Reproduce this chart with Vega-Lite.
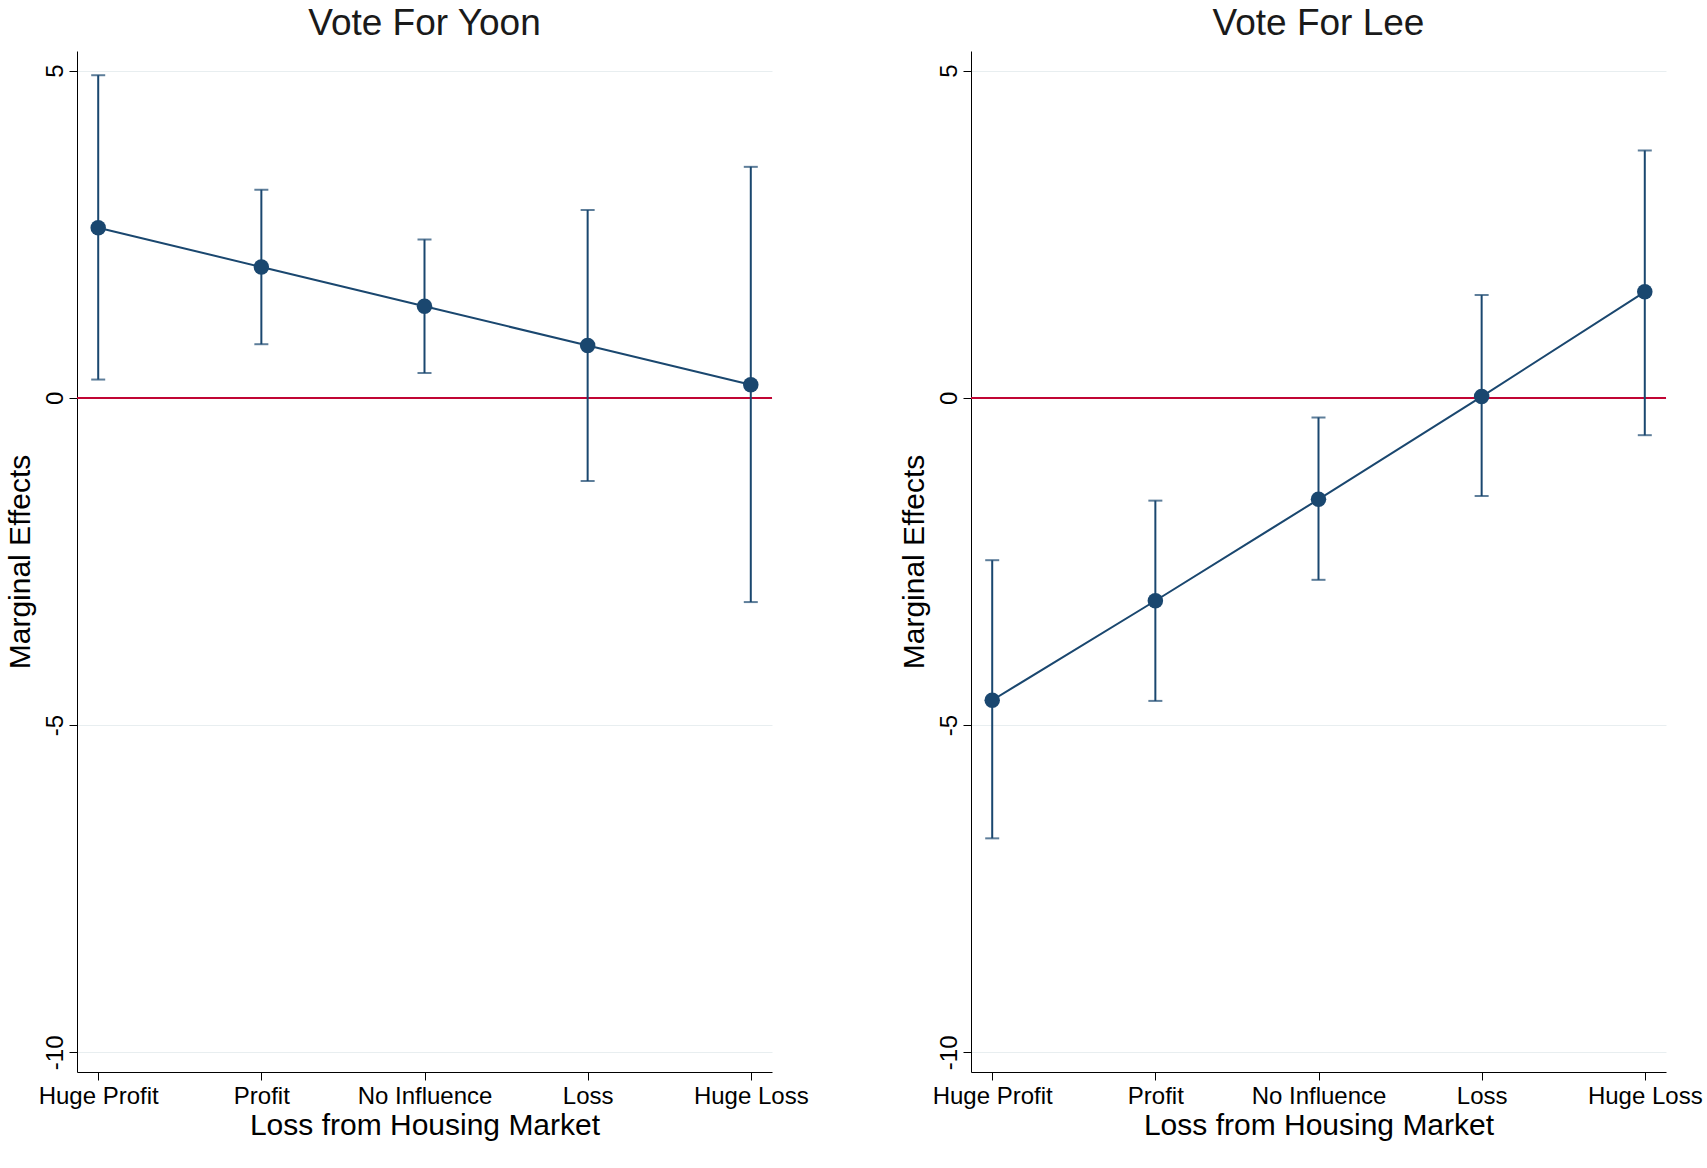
{
  "$schema": "https://vega.github.io/schema/vega-lite/v6.json",
  "background": "white",
  "padding": {"left": 5, "top": 5, "right": 5, "bottom": 5},
  "config": {
    "font": "Liberation Sans",
    "view": {"stroke": null},
    "title": {"fontSize": 37, "fontWeight": "normal", "color": "#1a1a1a", "offset": 8},
    "axis": {
      "labelFontSize": 24, "titleFontSize": 30, "titleFontWeight": "normal",
      "labelColor": "black", "titleColor": "black", "domainColor": "black", "tickColor": "black",
      "tickSize": 8
    }
  },
  "datasets": {
    "effects": [
      {"panel": "Yoon", "cat": "Huge Profit", "ord": 1, "me": 2.6, "lo": 0.28, "hi": 4.93},
      {"panel": "Yoon", "cat": "Profit", "ord": 2, "me": 2.0, "lo": 0.82, "hi": 3.18},
      {"panel": "Yoon", "cat": "No Influence", "ord": 3, "me": 1.4, "lo": 0.38, "hi": 2.42},
      {"panel": "Yoon", "cat": "Loss", "ord": 4, "me": 0.8, "lo": -1.27, "hi": 2.87},
      {"panel": "Yoon", "cat": "Huge Loss", "ord": 5, "me": 0.2, "lo": -3.12, "hi": 3.53},
      {"panel": "Lee", "cat": "Huge Profit", "ord": 1, "me": -4.62, "lo": -6.73, "hi": -2.48},
      {"panel": "Lee", "cat": "Profit", "ord": 2, "me": -3.1, "lo": -4.63, "hi": -1.57},
      {"panel": "Lee", "cat": "No Influence", "ord": 3, "me": -1.55, "lo": -2.78, "hi": -0.3},
      {"panel": "Lee", "cat": "Loss", "ord": 4, "me": 0.02, "lo": -1.5, "hi": 1.57},
      {"panel": "Lee", "cat": "Huge Loss", "ord": 5, "me": 1.62, "lo": -0.57, "hi": 3.78}
    ],
    "zero": [{"z": 0}]
  },
  "spacing": 90,
  "hconcat": [
    {
      "title": "Vote For Yoon",
      "width": 695, "height": 1021,
      "layer": [
        {
          "data": {"name": "zero"},
          "mark": {"type": "rule", "color": "#c10534", "strokeWidth": 2},
          "encoding": {"y": {"field": "z", "type": "quantitative", "scale": {"domain": [-10.3, 5.3]}}}
        },
        {
          "data": {"name": "effects"},
          "transform": [{"filter": "datum.panel == 'Yoon'"}],
          "encoding": {
            "x": {"field": "cat", "type": "ordinal", "sort": {"field": "ord"},
                  "scale": {"type": "point", "padding": 0.13},
                  "axis": {"title": "Loss from Housing Market", "labelAngle": 0, "labelPadding": 4, "titlePadding": 2}},
            "y": {"type": "quantitative", "scale": {"domain": [-10.3, 5.3], "nice": false},
                  "axis": {"title": "Marginal Effects", "values": [5, 0, -5, -10], "labelAngle": -90,
                           "labelExpr": "'' + datum.value",
                           "labelAlign": "center", "labelBaseline": "bottom", "grid": true, "gridColor": "#e8eef0", "titlePadding": 8}}
          },
          "layer": [
            {"mark": {"type": "errorbar", "ticks": {"size": 14}, "color": "#1a476f", "thickness": 2},
             "encoding": {"y": {"field": "lo", "type": "quantitative"}, "y2": {"field": "hi"}}},
            {"mark": {"type": "line", "color": "#1a476f", "strokeWidth": 2}, "encoding": {"y": {"field": "me", "type": "quantitative"}}},
            {"mark": {"type": "point", "filled": true, "opacity": 1, "color": "#1a476f", "size": 240}, "encoding": {"y": {"field": "me", "type": "quantitative"}}}
          ]
        }
      ]
    },
    {
      "title": "Vote For Lee",
      "width": 695, "height": 1021,
      "layer": [
        {
          "data": {"name": "zero"},
          "mark": {"type": "rule", "color": "#c10534", "strokeWidth": 2},
          "encoding": {"y": {"field": "z", "type": "quantitative", "scale": {"domain": [-10.3, 5.3]}}}
        },
        {
          "data": {"name": "effects"},
          "transform": [{"filter": "datum.panel == 'Lee'"}],
          "encoding": {
            "x": {"field": "cat", "type": "ordinal", "sort": {"field": "ord"},
                  "scale": {"type": "point", "padding": 0.13},
                  "axis": {"title": "Loss from Housing Market", "labelAngle": 0, "labelPadding": 4, "titlePadding": 2}},
            "y": {"type": "quantitative", "scale": {"domain": [-10.3, 5.3], "nice": false},
                  "axis": {"title": "Marginal Effects", "values": [5, 0, -5, -10], "labelAngle": -90,
                           "labelExpr": "'' + datum.value",
                           "labelAlign": "center", "labelBaseline": "bottom", "grid": true, "gridColor": "#e8eef0", "titlePadding": 8}}
          },
          "layer": [
            {"mark": {"type": "errorbar", "ticks": {"size": 14}, "color": "#1a476f", "thickness": 2},
             "encoding": {"y": {"field": "lo", "type": "quantitative"}, "y2": {"field": "hi"}}},
            {"mark": {"type": "line", "color": "#1a476f", "strokeWidth": 2}, "encoding": {"y": {"field": "me", "type": "quantitative"}}},
            {"mark": {"type": "point", "filled": true, "opacity": 1, "color": "#1a476f", "size": 240}, "encoding": {"y": {"field": "me", "type": "quantitative"}}}
          ]
        }
      ]
    }
  ]
}
